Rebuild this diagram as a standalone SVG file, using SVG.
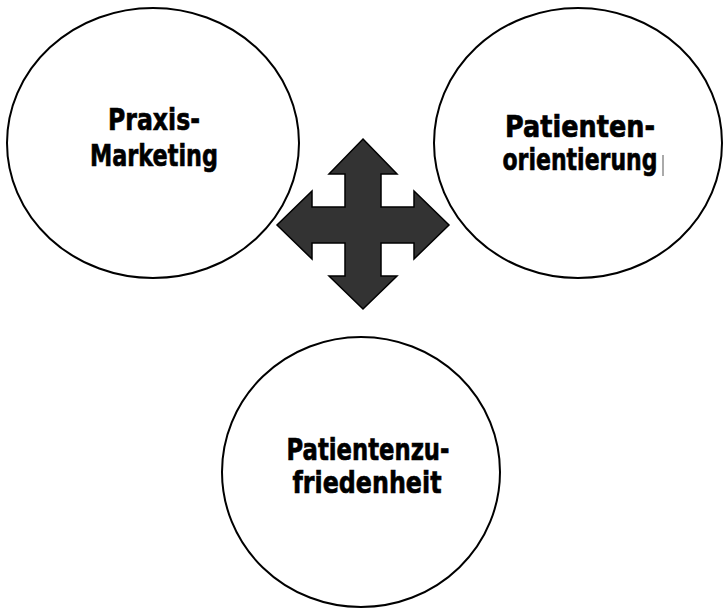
<svg xmlns="http://www.w3.org/2000/svg" width="723" height="609" viewBox="0 0 723 609">
<style>
.node ellipse{fill:#fff;stroke:#000;stroke-width:2}
.lbl{font-family:"DejaVu Sans","Liberation Sans",sans-serif;font-weight:bold;font-size:31px;fill:#000;stroke:#000;stroke-width:0.7;text-anchor:middle}
.arrow{fill:#333;stroke:#000;stroke-width:1.5;stroke-linejoin:miter}
</style>
<rect width="723" height="609" fill="#fff"/>
<g id="node-praxis" class="node">
<ellipse cx="153" cy="143" rx="146" ry="135"/>
<text class="lbl" x="154" y="130" textLength="92" lengthAdjust="spacingAndGlyphs">Praxis-</text>
<text class="lbl" x="154" y="166" textLength="128" lengthAdjust="spacingAndGlyphs">Marketing</text>
</g>
<g id="node-orientierung" class="node">
<ellipse cx="578" cy="143" rx="144" ry="135"/>
<text class="lbl" x="580" y="137" textLength="150" lengthAdjust="spacingAndGlyphs">Patienten-</text>
<text class="lbl" x="580" y="170" textLength="155" lengthAdjust="spacingAndGlyphs">orientierung</text>
<rect x="662" y="155" width="2" height="21" fill="#aaa"/>
</g>
<g id="node-zufriedenheit" class="node">
<ellipse cx="361" cy="472" rx="139" ry="135"/>
<text class="lbl" x="368" y="460" textLength="163" lengthAdjust="spacingAndGlyphs">Patientenzu-</text>
<text class="lbl" x="367" y="493" textLength="149" lengthAdjust="spacingAndGlyphs">friedenheit</text>
</g>
<g id="connectors">
<path class="arrow" d="M363,139 L397,174 L381,174 L381,207 L414,207 L414,191 L449,225 L414,259 L414,243 L381,243 L381,276 L397,276 L363,309 L329,276 L345,276 L345,243 L312,243 L312,259 L277,225 L312,191 L312,207 L345,207 L345,174 L329,174 Z"/>
</g>
</svg>
